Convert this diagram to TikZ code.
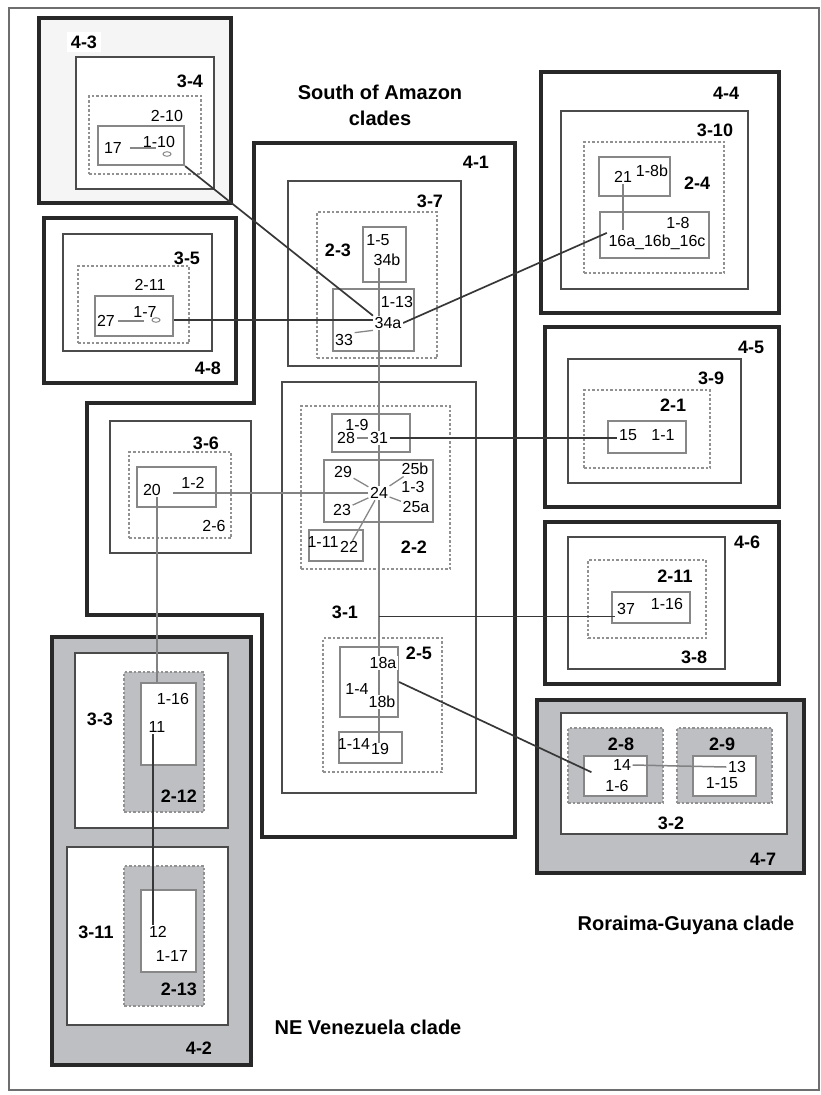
\documentclass[tikz,border=0pt]{standalone}
\usepackage{fontspec}
\setmainfont{Liberation Sans}
\usetikzlibrary{fit,shapes.geometric}
\pgfdeclarelayer{boxes}
\pgfdeclarelayer{lines}
\pgfsetlayers{boxes,lines,main}
\definecolor{cfour}{RGB}{40,40,40}
\definecolor{cthree}{RGB}{75,75,75}
\definecolor{cone}{RGB}{135,135,135}
\definecolor{cdash}{RGB}{145,145,145}
\definecolor{cfill}{RGB}{190,191,195}
\definecolor{cframe}{RGB}{110,110,110}
\definecolor{cconn}{RGB}{55,55,55}
\definecolor{cgry}{RGB}{130,130,130}
\begin{document}
\begin{tikzpicture}[x=1pt,y=-1pt,
  bfour/.style={draw=cfour,line width=3.6pt,inner sep=0pt},
  bthree/.style={draw=cthree,line width=2.2pt,inner sep=0pt},
  bone/.style={draw=cone,line width=2.2pt,inner sep=0pt},
  bdash/.style={draw=cdash,line width=2pt,dash pattern=on 2.5pt off 2pt,inner sep=0pt},
  gfill/.style={fill=cfill},
  wfill/.style={fill=white},
  t/.style={font=\fontsize{16}{19}\selectfont,inner sep=1.5pt},
  tw/.style={t,fill=white},
  tb/.style={font=\bfseries\fontsize{18}{21}\selectfont,inner sep=1pt},
  ttl/.style={font=\bfseries\fontsize{20}{26}\selectfont,align=center,inner sep=0pt},
  cdark/.style={draw=cconn,line width=1.7pt},
  cgrey/.style={draw=cgry,line width=1.5pt},
  cthin/.style={draw=cone,line width=1.3pt},
  ell/.style={draw=cone,line width=1pt,ellipse,minimum width=8pt,minimum height=4.5pt,inner sep=0pt}
]
\useasboundingbox (0,0) rectangle (821,1095);
\begin{pgfonlayer}{boxes}
\draw[draw=cframe,line width=1.5pt] (9,8) rectangle (819,1090);
% top left
\node[bfour,fill=black!4,fit={(39,18) (231,203)}] (b43) {};
\node[bthree,wfill,fit={(76,57) (214,189)}] (b34) {};
\node[bdash,fit={(89,96) (201,174)}] (d210) {};
\node[bone,fit={(98,126) (184,165)}] (b110) {};
\node[bfour,fit={(44,218) (236,383)}] (b48) {};
\node[bthree,fit={(63,234) (212,351)}] (b35) {};
\node[bdash,fit={(78,266) (189,343)}] (d211a) {};
\node[bone,fit={(95,296) (173,336)}] (b17) {};
% 4-1 polygon
\draw[draw=cfour,line width=3.6pt,line join=miter] (254,143) -- (515,143) -- (515,837) -- (262,837) -- (262,615) -- (87,615) -- (87,403) -- (254,403) -- cycle;
\node[bthree,fit={(288,181) (461,366)}] (b37) {};
\node[bdash,fit={(317,212) (437,358)}] (d23) {};
\node[bone,fit={(363,227) (406,282)}] (b15) {};
\node[bone,fit={(333,289) (414,351)}] (b113) {};
\node[bthree,fit={(282,382) (476,793)}] (b31) {};
\node[bdash,fit={(301,406) (450,569)}] (d22) {};
\node[bone,fit={(332,414) (410,452)}] (b19) {};
\node[bone,fit={(324,460) (433,522)}] (b13) {};
\node[bone,fit={(309,530) (363,561)}] (b111) {};
\node[bdash,fit={(323,638) (442,772)}] (d25) {};
\node[bone,fit={(340,647) (398,717)}] (b14) {};
\node[bone,fit={(339,732) (402,763)}] (b114) {};
\node[bthree,fit={(110,421) (251,553)}] (b36) {};
\node[bdash,fit={(129,452) (231,538)}] (d26) {};
\node[bone,fit={(137,467) (216,507)}] (b12) {};
% bottom left
\node[bfour,gfill,fit={(52,637) (251,1065)}] (b42) {};
\node[bthree,wfill,fit={(75,653) (228,828)}] (b33) {};
\node[bdash,gfill,fit={(124,672) (204,812)}] (d212) {};
\node[bone,wfill,fit={(141,683) (196,765)}] (b116a) {};
\node[bthree,wfill,fit={(67,847) (228,1025)}] (b311) {};
\node[bdash,gfill,fit={(124,866) (204,1006)}] (d213) {};
\node[bone,wfill,fit={(141,890) (196,972)}] (b117) {};
% right
\node[bfour,fit={(541,72) (779,313)}] (b44) {};
\node[bthree,fit={(561,111) (748,289)}] (b310) {};
\node[bdash,fit={(584,142) (724,273)}] (d24) {};
\node[bone,fit={(599,157) (670,196)}] (b18b) {};
\node[bone,fit={(600,212) (709,258)}] (b18) {};
\node[bfour,fit={(545,327) (779,507)}] (b45) {};
\node[bthree,fit={(568,359) (741,483)}] (b39) {};
\node[bdash,fit={(584,390) (710,468)}] (d21) {};
\node[bone,fit={(608,421) (686,453)}] (b11) {};
\node[bfour,fit={(545,522) (779,684)}] (b46) {};
\node[bthree,fit={(568,537) (725,669)}] (b38) {};
\node[bdash,fit={(588,560) (706,638)}] (d211b) {};
\node[bone,fit={(612,592) (690,623)}] (b116b) {};
\node[bfour,gfill,fit={(537,700) (804,873)}] (b47) {};
\node[bthree,wfill,fit={(561,713) (787,834)}] (b32) {};
\node[bdash,gfill,fit={(568,728) (663,803)}] (d28) {};
\node[bone,wfill,fit={(584,756) (647,796)}] (b16) {};
\node[bdash,gfill,fit={(677,728) (772,803)}] (d29) {};
\node[bone,wfill,fit={(693,756) (756,796)}] (b115) {};
\end{pgfonlayer}
% titles
\node[ttl] (tsouth) at (380,105) {South of Amazon\\clades};
\node[ttl] (troraima) at (686,925) {Roraima-Guyana clade};
\node[ttl] (tne) at (368,1027) {NE Venezuela clade};
% top left texts
\node[tb,fill=white,inner sep=4pt] (n43) at (84,42) {4-3};
\node[tb] (n34lab) at (190,81) {3-4};
\node[t] (n210) at (167,116) {2-10};
\node[t] (n110) at (159,142) {1-10};
\node[t] (n17) at (113,148) {17};
\node[ell] (e110) at (167,154) {};
\node[tb] (n48) at (208,368) {4-8};
\node[tb] (n35) at (187,258) {3-5};
\node[t] (n211a) at (150,285) {2-11};
\node[t] (n17lab) at (145,312) {1-7};
\node[t] (n27) at (106,321) {27};
\node[ell] (e17) at (156,320) {};
% center texts
\node[tb] (n41) at (476,162) {4-1};
\node[tb] (n37lab) at (430,201) {3-7};
\node[tb] (n23lab) at (338,250) {2-3};
\node[t] (n15lab) at (378,240) {1-5};
\node[tw] (n34b) at (387,260) {34b};
\node[t] (n113) at (397,302) {1-13};
\node[tw] (n34a) at (388,323) {34a};
\node[t] (n33) at (344,340) {33};
\node[tb] (n31lab) at (345,612) {3-1};
\node[tb] (n22lab) at (414,547) {2-2};
\node[t] (n19lab) at (357,425) {1-9};
\node[t] (n28) at (346,438) {28};
\node[tw] (n31) at (379,438) {31};
\node[t] (n29) at (343,472) {29};
\node[t] (n25b) at (415,469) {25b};
\node[t] (n13lab) at (413,487) {1-3};
\node[tw] (n24) at (379,493) {24};
\node[t] (n23) at (342,510) {23};
\node[t] (n25a) at (416,507) {25a};
\node[t,inner sep=0.5pt] (n111) at (323,542) {1-11};
\node[t,inner sep=0.5pt] (n22) at (349,547) {22};
\node[tb] (n25lab) at (419,653) {2-5};
\node[tw] (n18a) at (383,663) {18a};
\node[t] (n14lab) at (357,689) {1-4};
\node[tw] (n18b) at (382,702) {18b};
\node[t,inner sep=0.5pt] (n114) at (354,744) {1-14};
\node[t,inner sep=0.5pt] (n19) at (380,749) {19};
\coordinate (vx) at (379,0);
% left middle
\node[tb] (n36lab) at (206,443) {3-6};
\node[t] (n26lab) at (214,526) {2-6};
\node[t] (n12lab) at (193,483) {1-2};
\node[t] (n20) at (152,490) {20};
% bottom left
\node[tb] (n42lab) at (199,1048) {4-2};
\node[tb] (n33lab) at (100,719) {3-3};
\node[tb] (n212) at (179,796) {2-12};
\node[t] (n116a) at (173,699) {1-16};
\node[t] (n11) at (157,727) {11};
\node[tb] (n311) at (96,932) {3-11};
\node[tb] (n213) at (179,989) {2-13};
\node[t] (n12) at (158,932) {12};
\node[t] (n117) at (172,956) {1-17};
% right
\node[tb] (n44lab) at (726,93) {4-4};
\node[tb] (n310) at (715,130) {3-10};
\node[tb] (n24lab) at (697,183) {2-4};
\node[t] (n21) at (623,177) {21};
\node[t] (n18blab) at (652,171) {1-8b};
\node[t] (n18lab) at (678,223) {1-8};
\node[t] (n16) at (657,242) {16a\_16b\_16c};
\node[tb] (n45) at (751,347) {4-5};
\node[tb] (n39) at (711,378) {3-9};
\node[tb] (n21lab) at (673,405) {2-1};
\node[t] (n15) at (628,435) {15};
\node[t] (n11lab) at (663,435) {1-1};
\node[tb] (n46) at (747,542) {4-6};
\node[tb] (n38) at (694,657) {3-8};
\node[tb] (n211b) at (675,576) {2-11};
\node[t] (n37) at (626,609) {37};
\node[t] (n116b) at (667,604) {1-16};
\node[tb] (n47) at (763,859) {4-7};
\node[tb] (n32) at (671,823) {3-2};
\node[tb] (n28lab) at (621,744) {2-8};
\node[t] (n14) at (622,765) {14};
\node[t] (n16lab) at (617,786) {1-6};
\node[tb] (n29lab) at (722,744) {2-9};
\node[t] (n13) at (737,767) {13};
\node[t] (n115) at (722,783) {1-15};
% connectors
\begin{pgfonlayer}{lines}
\draw[cdark] (b110.south east) -- (n34a.north west);
\draw[cdark] (b17.east |- e17) -- (n34a.west |- e17);
\draw[cdark] (n34a.east) -- (n16.north west);
\draw[cthin] (n33.north east) -- (n34a.south west);
\draw[cgrey] (n34b.south -| vx) -- (n19.north -| vx);
\draw[cthin] (n28.east) -- (n31.west);
\draw[cdark] (n31.east) -- (n31.east -| n15.west);
\draw[cthin] (n24) -- (n29);
\draw[cthin] (n24) -- (n25b);
\draw[cthin] (n24) -- (n23);
\draw[cthin] (n24) -- (n25a);
\draw[cthin] (n24) -- (n22);
\draw[cgrey] (n24.west) -- ([xshift=10pt]n20.east |- n24.west);
\draw[cgrey] (n20.south -| n11) -- (b116a.north -| n11);
\draw[cdark] ([xshift=-4pt]n11.south) -- ([xshift=-4pt]n11.south |- n12.north);
\draw[cdark] (n37.south west -| vx) -- (n37.south west);
\draw[cdark] (b14.east) -- ([xshift=-20pt]n14.south west);
\draw[cgrey] (n14.east) -- (n13.west);
\draw[cgrey] (n21.south) -- (n21.south |- n18lab.south);
\draw[cthin,shorten <=6pt,shorten >=7pt] (n17.east) -- (n17.east -| e110.west);
\draw[cthin,shorten <=1pt,shorten >=8pt] (n27.east) -- (n27.east -| e17.west);
\end{pgfonlayer}
\end{tikzpicture}
\end{document}
